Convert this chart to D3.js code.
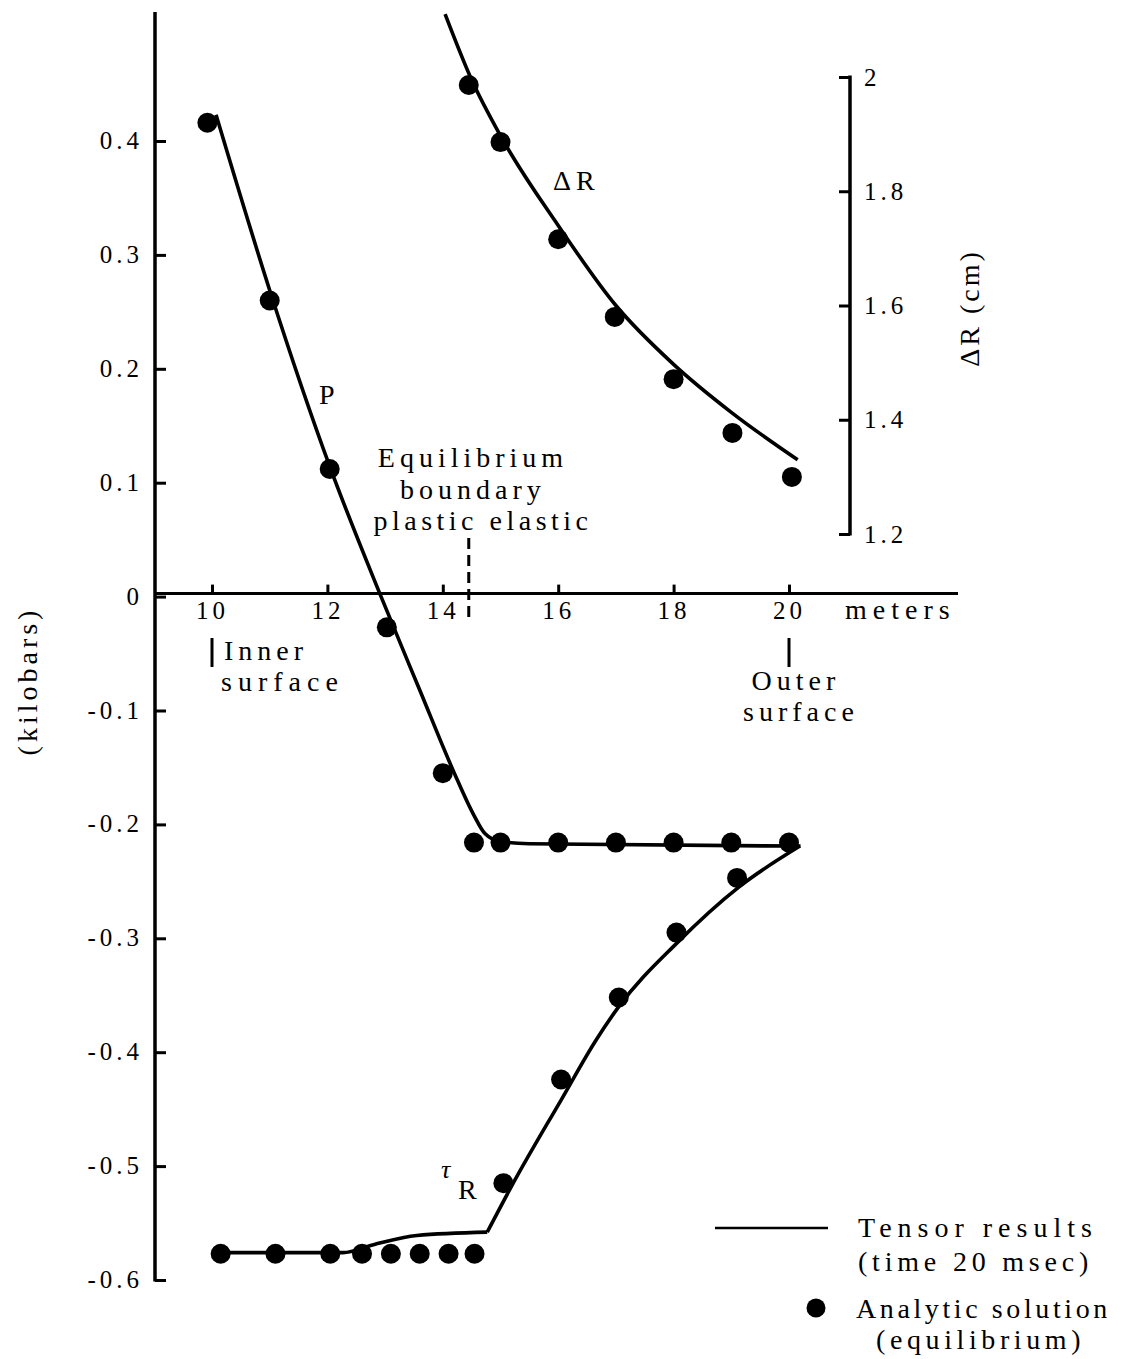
<!DOCTYPE html>
<html lang="en">
<head>
<meta charset="utf-8">
<title>Tensor results vs analytic solution</title>
<script src="https://d3js.org/d3.v7.min.js"></script>
<style>
  body { margin: 0; background: #fff; }
  svg text { font-family: "Liberation Serif", "DejaVu Serif", serif; font-size: 28px; letter-spacing: 5px; fill: #000; }
  .axis text { font-size: 25px; letter-spacing: 4px; }
  .axis line, .axis path { stroke: #000; stroke-width: 3; }
  .curve { fill: none; stroke: #000; stroke-width: 3.6; }
  .dot { fill: #000; }
</style>
</head>
<body>
<script>
// ---- data (x in meters, P / tauR in kilobars, dR in cm) ----
const xTicks = [10, 12, 14, 16, 18, 20];
const yTicks = [0.4, 0.3, 0.2, 0.1, 0, -0.1, -0.2, -0.3, -0.4, -0.5, -0.6];
const rTicks = [2, 1.8, 1.6, 1.4, 1.2];

// tensor results (solid curves)
const pLineX = [10.07, 11.0, 12.05, 12.93, 13.6, 14.2, 14.54, 14.73, 15.0, 15.5, 20.2];
const pLineY = [0.423, 0.269, 0.113, 0.0, -0.082, -0.155, -0.192, -0.208, -0.215, -0.217, -0.219];

const tauLowX = [10.0, 12.27, 12.8, 13.55, 14.77];
const tauLowY = [-0.576, -0.576, -0.569, -0.561, -0.558];
const tauHighX = [14.77, 15.22, 16.05, 16.66, 17.05, 18.06, 19.13, 20.19];
const tauHighY = [-0.558, -0.515, -0.442, -0.389, -0.36, -0.304, -0.255, -0.219];

const drLineX = [14.04, 14.5, 15.0, 16.0, 17.0, 18.0, 19.0, 20.15];
const drLineY = [2.11, 1.995, 1.897, 1.74, 1.60, 1.497, 1.413, 1.33];

// analytic solution (dots)
const pDotX = [9.92, 11.0, 12.04, 13.03, 14.0, 14.54, 15, 16, 17, 18, 19, 20];
const pDotY = [0.416, 0.26, 0.112, -0.027, -0.155, -0.216, -0.216, -0.216, -0.216, -0.216, -0.216, -0.216];

const tauDotX = [10.15, 11.1, 12.05, 12.6, 13.1, 13.6, 14.1, 14.55, 15.05, 16.05, 17.05, 18.05, 19.1];
const tauDotY = [-0.577, -0.577, -0.577, -0.577, -0.577, -0.577, -0.577, -0.577, -0.515, -0.424, -0.352, -0.295, -0.247];

const drDotX = [14.45, 15.0, 16.0, 16.98, 18.0, 19.02, 20.05];
const drDotY = [1.986, 1.886, 1.716, 1.58, 1.471, 1.377, 1.30];

const boundaryX = 14.45;

const width = 1132, height = 1359;
const svg = d3.select("body").append("svg")
  .attr("width", width)
  .attr("height", height);

const x = d3.scaleLinear().domain([10, 20]).range([212, 789]);
const y = d3.scaleLinear().domain([0.4, -0.6]).range([141, 1280]);
const yR = d3.scaleLinear().domain([2, 1.2]).range([77, 534]);

const axisX = 155, zeroY = y(0);

// left axis
const fmt = d => d === 0 ? "0" : (d < 0 ? "-" : "") + Math.abs(d).toFixed(1);
const gl = svg.append("g").attr("class", "axis")
  .attr("transform", `translate(${axisX},0)`)
  .call(d3.axisLeft(y).tickValues(yTicks).tickSizeInner(-11).tickSizeOuter(0).tickPadding(12).tickFormat(fmt));
gl.select(".domain").remove();
gl.selectAll("text").attr("dy", "0.3em");
svg.append("line").attr("x1", axisX).attr("x2", axisX).attr("y1", 12).attr("y2", y(-0.6) + 1.5)
  .attr("stroke", "#000").attr("stroke-width", 3.5);

// bottom (zero) axis
const gx = svg.append("g").attr("class", "axis")
  .attr("transform", `translate(0,${zeroY - 3})`)
  .call(d3.axisBottom(x).tickValues(xTicks).tickSizeInner(-9).tickSizeOuter(0).tickPadding(8));
gx.select(".domain").remove();
svg.append("line").attr("x1", axisX).attr("x2", 958).attr("y1", zeroY - 3).attr("y2", zeroY - 3)
  .attr("stroke", "#000").attr("stroke-width", 3);
svg.append("text").attr("x", 845).attr("y", zeroY + 22).style("letter-spacing", "6px").text("meters");

// right axis (delta R)
const gr = svg.append("g").attr("class", "axis")
  .attr("transform", "translate(850,0)")
  .call(d3.axisRight(yR).tickValues(rTicks).tickSizeInner(-11).tickSizeOuter(0).tickPadding(14)
    .tickFormat(d => d === 2 ? "2" : d.toFixed(1)));
gr.select(".domain").remove();
svg.append("line").attr("x1", 850).attr("x2", 850).attr("y1", yR(2) - 1.5).attr("y2", yR(1.2) + 1.5)
  .attr("stroke", "#000").attr("stroke-width", 3.5);

// axis titles
svg.append("text")
  .attr("transform", "translate(37,681) rotate(-90)")
  .attr("text-anchor", "middle")
  .style("letter-spacing", "4px")
  .text("(kilobars)");
svg.append("text")
  .attr("transform", "translate(979,308) rotate(-90)")
  .attr("text-anchor", "middle")
  .style("letter-spacing", "3px")
  .text("\u0394R (cm)");

// curves
const line = d3.line().x(d => x(d[0])).y(d => y(d[1])).curve(d3.curveMonotoneX);
const lineR = d3.line().x(d => x(d[0])).y(d => yR(d[1])).curve(d3.curveMonotoneX);
const zip = (a, b) => a.map((v, i) => [v, b[i]]);

svg.append("path").attr("class", "curve").attr("d", line(zip(pLineX, pLineY)));
svg.append("path").attr("class", "curve").attr("d", line(zip(tauLowX, tauLowY)));
svg.append("path").attr("class", "curve").attr("d", line(zip(tauHighX, tauHighY)));
svg.append("path").attr("class", "curve").attr("d", lineR(zip(drLineX, drLineY)));

// dots
const r = 10;
svg.selectAll(".pdot").data(zip(pDotX, pDotY)).enter().append("circle")
  .attr("class", "dot").attr("cx", d => x(d[0])).attr("cy", d => y(d[1])).attr("r", r);
svg.selectAll(".tdot").data(zip(tauDotX, tauDotY)).enter().append("circle")
  .attr("class", "dot").attr("cx", d => x(d[0])).attr("cy", d => y(d[1])).attr("r", r);
svg.selectAll(".rdot").data(zip(drDotX, drDotY)).enter().append("circle")
  .attr("class", "dot").attr("cx", d => x(d[0])).attr("cy", d => yR(d[1])).attr("r", r);

// plastic / elastic boundary
svg.append("line")
  .attr("x1", x(boundaryX)).attr("x2", x(boundaryX))
  .attr("y1", 538).attr("y2", 621)
  .attr("stroke", "#000").attr("stroke-width", 3).attr("stroke-dasharray", "11,6");

svg.append("text").attr("x", 473).attr("y", 467).attr("text-anchor", "middle").text("Equilibrium");
svg.append("text").attr("x", 473).attr("y", 499).attr("text-anchor", "middle").text("boundary");
svg.append("text").attr("x", 483).attr("y", 530).attr("text-anchor", "middle").style("letter-spacing", "4.5px").text("plastic elastic");

// surface markers
[10, 20].forEach(v => {
  svg.append("line").attr("x1", x(v)).attr("x2", x(v)).attr("y1", 638).attr("y2", 667)
    .attr("stroke", "#000").attr("stroke-width", 3);
});
svg.append("text").attr("x", 224).attr("y", 660).text("Inner");
svg.append("text").attr("x", 221).attr("y", 691).style("letter-spacing", "6px").text("surface");
svg.append("text").attr("x", 796).attr("y", 690).attr("text-anchor", "middle").text("Outer");
svg.append("text").attr("x", 801).attr("y", 721).attr("text-anchor", "middle").text("surface");

// curve labels
svg.append("text").attr("x", 319).attr("y", 404).text("P");
svg.append("text").attr("x", 553).attr("y", 190).text("\u0394R");
svg.append("text").attr("x", 441).attr("y", 1178).style("font-size", "26px").style("font-style", "italic").text("\u03c4");
svg.append("text").attr("x", 458).attr("y", 1199).text("R");

// legend
svg.append("line").attr("x1", 715).attr("x2", 828).attr("y1", 1228).attr("y2", 1228)
  .attr("stroke", "#000").attr("stroke-width", 2.5);
svg.append("text").attr("x", 858).attr("y", 1237).style("letter-spacing", "6px").text("Tensor results");
svg.append("text").attr("x", 858).attr("y", 1271).style("letter-spacing", "4.8px").text("(time 20 msec)");
svg.append("circle").attr("class", "dot").attr("cx", 816).attr("cy", 1308).attr("r", 9.5);
svg.append("text").attr("x", 856).attr("y", 1318).style("letter-spacing", "3.6px").text("Analytic solution");
svg.append("text").attr("x", 876).attr("y", 1349).style("letter-spacing", "4.6px").text("(equilibrium)");
</script>
</body>
</html>
